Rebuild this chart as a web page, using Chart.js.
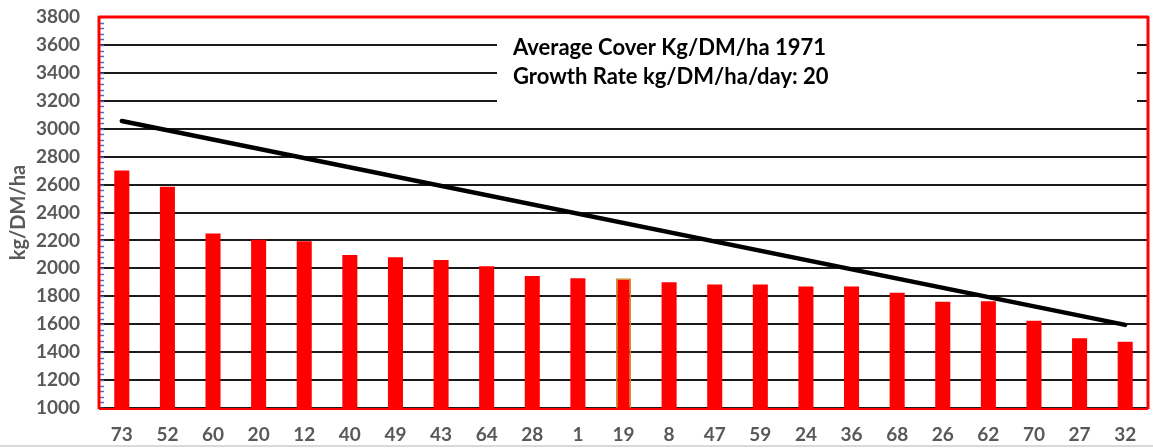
<!DOCTYPE html>
<html lang="en">
<head>
<meta charset="UTF-8">
<title>Average Cover</title>
<script src="https://cdn.jsdelivr.net/npm/chart.js"></script>
<style>
    body { margin: 0; padding: 0; background: #fff; }
    #wrap { width: 1153px; height: 448px; position: relative; }
</style>
</head>
<body>
<div id="wrap"><canvas id="coverChart"></canvas></div>
<script>
    // paddock numbers, sorted by cover
    const paddocks = ['73', '52', '60', '20', '12', '40', '49', '43', '64', '28', '1', '19',
        '8', '47', '59', '24', '36', '68', '26', '62', '70', '27', '32'];
    const cover = [2700, 2585, 2250, 2205, 2195, 2095, 2080, 2060, 2015, 1945, 1930, 1930,
        1900, 1885, 1885, 1870, 1870, 1825, 1760, 1765, 1625, 1500, 1475];
    // feed wedge target line: only the two end points
    const wedgeStart = 3055;
    const wedgeEnd = 1595;
    const averageCover = 1971;
    const growthRate = 20;

    const FONT = 'Lato, "Open Sans", sans-serif';
    const GREY = '#595959';

    const wedge = paddocks.map(() => null);
    wedge[0] = wedgeStart;
    wedge[wedge.length - 1] = wedgeEnd;

    const decor = {
        id: 'decor',
        afterDraw(chart) {
            const ctx = chart.ctx;
            const a = chart.chartArea;
            const y = chart.scales.y;
            ctx.save();

            // text box over the gridlines
            ctx.fillStyle = '#fff';
            ctx.fillRect(497, 32, 640, 82);
            ctx.fillStyle = '#000';
            ctx.font = 'bold 22px ' + FONT;
            ctx.textBaseline = 'alphabetic';
            ctx.fillText('Average Cover Kg/DM/ha ' + averageCover, 513, 55);
            ctx.fillText('Growth Rate kg/DM/ha/day: ' + growthRate, 513, 84);

            // small blue minor ticks on the y axis
            ctx.strokeStyle = '#4472C4';
            ctx.lineWidth = 1.5;
            for (let v = y.min; v <= y.max; v += 40) {
                const py = Math.round(y.getPixelForValue(v)) + 0.5;
                ctx.beginPath();
                ctx.moveTo(a.left, py);
                ctx.lineTo(a.left + 5, py);
                ctx.stroke();
            }

            // red frame round the plot
            ctx.strokeStyle = '#FF0000';
            ctx.lineWidth = 3;
            ctx.lineJoin = 'round';
            ctx.beginPath();
            ctx.moveTo(a.left, a.bottom + 1);
            ctx.lineTo(a.left, a.top);
            ctx.lineTo(a.right, a.top);
            ctx.lineTo(a.right, a.bottom + 1);
            ctx.stroke();
            ctx.lineWidth = 2;
            ctx.beginPath();
            ctx.moveTo(a.left, a.bottom + 1);
            ctx.lineTo(a.right, a.bottom + 1);
            ctx.stroke();

            // thin grey line at the very bottom
            ctx.strokeStyle = '#d9d9d9';
            ctx.lineWidth = 2;
            ctx.beginPath();
            ctx.moveTo(0, 446);
            ctx.lineTo(chart.width, 446);
            ctx.stroke();
            ctx.restore();
        }
    };

    const ctx = document.getElementById('coverChart').getContext('2d');
    new Chart(ctx, {
        data: {
            labels: paddocks,
            datasets: [{
                type: 'line',
                data: wedge,
                spanGaps: true,
                borderColor: '#000',
                borderWidth: 4.5,
                borderCapStyle: 'round',
                pointRadius: 0,
                order: 0
            }, {
                type: 'bar',
                data: cover,
                backgroundColor: '#FF0000',
                borderColor: paddocks.map(p => p === '19' ? '#C39A2A' : '#FF0000'),
                borderWidth: paddocks.map(p => p === '19' ? 1.5 : 0),
                barPercentage: 0.33,
                categoryPercentage: 1,
                order: 1
            }]
        },
        options: {
            responsive: true,
            maintainAspectRatio: false,
            animation: false,
            layout: { padding: { top: 17, right: 5, bottom: 0, left: 0 } },
            plugins: {
                legend: { display: false },
                tooltip: { enabled: false }
            },
            scales: {
                x: {
                    grid: { display: false, drawTicks: false },
                    border: { display: false },
                    ticks: {
                        color: GREY,
                        font: { family: FONT, size: 19, weight: 'bold' },
                        padding: 15,
                        maxRotation: 0,
                        autoSkip: false
                    },
                    afterFit: s => { s.height = 40; }
                },
                y: {
                    min: 1000,
                    max: 3800,
                    // invisible tick marks give the gap between labels and axis
                    grid: { color: '#1a1a1a', lineWidth: 2, drawTicks: true, tickLength: 19, tickColor: 'rgba(0,0,0,0)' },
                    border: { display: false },
                    ticks: {
                        stepSize: 200,
                        color: GREY,
                        font: { family: FONT, size: 19, weight: 'bold' },
                        padding: 0,
                        callback: v => String(v)
                    },
                    title: {
                        display: true,
                        text: 'kg/DM/ha',
                        color: GREY,
                        font: { family: FONT, size: 20, weight: 'bold' },
                        padding: { top: 7, bottom: 0 }
                    },
                    afterFit: s => { s.width = 99; }
                }
            }
        },
        plugins: [decor]
    });
</script>
</body>
</html>
